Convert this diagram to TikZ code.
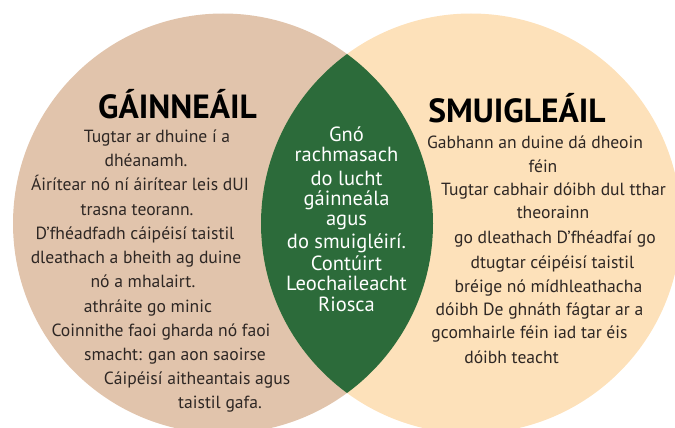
\documentclass[tikz,border=0pt]{standalone}
\usepackage{fontspec}
\setmainfont{PT Sans}
\definecolor{tanc}{HTML}{E1C4AC}
\definecolor{peachc}{HTML}{FDE1BA}
\definecolor{greenc}{HTML}{2C6B3A}
\definecolor{bodytext}{HTML}{2E2724}
\begin{document}
\begin{tikzpicture}[x=1pt,y=-1pt,
  body/.style={anchor=base,inner sep=0pt,text=bodytext,font=\fontsize{17.6}{20}\selectfont},
  mid/.style={anchor=base,inner sep=0pt,text=white,font=\fontsize{20.5}{23}\selectfont},
  ttl/.style={anchor=base,inner sep=0pt,text=black,font=\fontsize{33.5}{36}\bfseries\selectfont}]
\useasboundingbox (0,0) rectangle (675,428);
\begin{scope}
  \clip (0,0) rectangle (675,428);
  \fill[tanc] (223,223.5) circle[radius=210pt];
  \fill[peachc] (471,223.5) circle[radius=210pt];
  \clip (223,223.5) circle[radius=210pt];
  \fill[greenc] (471,223.5) circle[radius=210pt];
\end{scope}
% left
\node[ttl] (t1) at (177.5,118) {GÁINNEÁIL};
\node[body] (l1) at (157,142.5) {Tugtar ar dhuine í a};
\node[body] (l2) at (146,166.7) {dhéanamh.};
\node[body] (l3) at (140,190.9) {Áirítear nó ní áirítear leis dUI};
\node[body] (l4) at (137,215) {trasna teorann.};
\node[body] (l5) at (135,239) {D’fhéadfadh cáipéisí taistil};
\node[body] (l6) at (136,263) {dleathach a bheith ag duine};
\node[body] (l7) at (143,287.5) {nó a mhalairt.};
\node[body] (l8) at (148,312) {athráite go minic};
\node[body] (l9) at (161,336) {Coinnithe faoi gharda nó faoi};
\node[body] (l10) at (175,360) {smacht: gan aon saoirse};
\node[body] (l11) at (197,384) {Cáipéisí aitheantais agus};
\node[body] (l12) at (220,408) {taistil gafa.};
% middle
\node[mid] (c1) at (346.5,141.7) {Gnó};
\node[mid] (c2) at (346.5,161.7) {rachmasach};
\node[mid] (c3) at (346.5,185) {do lucht};
\node[mid] (c4) at (346.5,205) {gáinneála};
\node[mid] (c5) at (346.5,225) {agus};
\node[mid] (c6) at (346.5,248) {do smuigléirí.};
\node[mid] (c7) at (346.5,270) {Contúirt};
\node[mid] (c8) at (346.5,290) {Leochaileacht};
\node[mid] (c9) at (346.5,311.7) {Riosca};
% right
\node[ttl] (t2) at (517,122) {SMUIGLEÁIL};
\node[body] (r1) at (535,148) {Gabhann an duine dá dheoin};
\node[body] (r2) at (543,172) {féin};
\node[body] (r3) at (553.5,195) {Tugtar cabhair dóibh dul tthar};
\node[body] (r4) at (553,218) {theorainn};
\node[body] (r5) at (555,243) {go dleathach D’fhéadfaí go};
\node[body] (r6) at (552.5,268) {dtugtar céipéisí taistil};
\node[body] (r7) at (548.5,292) {bréige nó mídhleathacha};
\node[body] (r8) at (539.5,315) {dóibh De ghnáth fágtar ar a};
\node[body] (r9) at (529.5,338) {gcomhairle féin iad tar éis};
\node[body] (r10) at (511.5,363) {dóibh teacht};
\end{tikzpicture}
\end{document}
